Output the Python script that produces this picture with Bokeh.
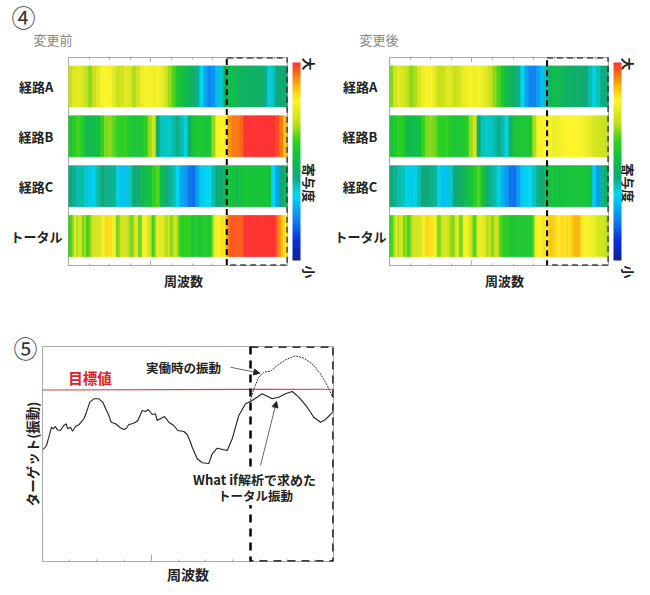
import numpy as np
from bokeh.plotting import figure
from bokeh.layouts import column, row
from bokeh.models import (Range1d, FixedTicker, LinearAxis, Label, BoxAnnotation, ColorBar,
                          LinearColorMapper, ColumnDataSource, Arrow, NormalHead)
from bokeh.transform import transform
from bokeh.embed import file_html
from bokeh.resources import INLINE

route_labels = ["経路A", "経路B", "経路C", "トータル"]
before_title = "変更前"
after_title = "変更後"
freq_label = "周波数"
cbar_label = "寄与度"

before_A = [.70,.74,.76,.74,.70,.66,.70,.75,.80,.81,.80,.75,.70,.72,.75,.74,.68,.72,.77,.79,.79,.78,.80,.77,.72,.67,.62,.55,.53,
            .50,.47,.45,.41,.33,.25,.21,.23,.29,.36,.45,.50,.50,.48,.47,.46,.46,.46,.46,.45,.41,.35,.37,.42,.43,.43]
before_B = [.55,.58,.61,.58,.51,.49,.50,.52,.60,.65,.66,.63,.60,.59,.60,.56,.55,.55,.55,.59,.67,.72,.44,.37,.36,.36,.38,.41,.38,
            .34,.45,.54,.55,.55,.54,.55,.66,.79,.81,.82,.91,.93,.93,.95,1,1,1,1,1,1,1,1,.98,.93,.87]
before_C = [.42,.40,.38,.38,.36,.31,.32,.38,.42,.41,.41,.40,.34,.30,.30,.36,.42,.43,.48,.50,.53,.60,.62,.50,.44,.40,.38,.33,.26,
            .24,.19,.18,.25,.31,.32,.33,.38,.42,.44,.47,.53,.53,.50,.53,.54,.54,.54,.54,.54,.54,.53,.33,.25,.42,.47]
before_T = [.60,.62,.66,.76,.68,.73,.72,.64,.68,.61,.62,.68,.72,.73,.73,.72,.76,.80,.83,.84,.83,.83,.82,.78,.64,.65,.72,.73,.72,.73,
            .68,.65,.65,.73,.75,.65,.63,.79,.79,.78,.72,.70,.60,.64,.75,.76,.75,.75,.70,.68,.72,.66,.67,.72,.72,.64,.60,.58,
            .60,.60,.60,.58,.55,.56,.58,.55,.55,.57,.57,.57,.56,.57,.64,.76,.78,.80,.82,.84,.82,.88,.93,.96,.97,.96,.96,.96,.96,.96,
            1,1,1,1,1,1,1,1,1,1,1,1,1,1,1,1,.97,.93,.90,.87,.84,.82]

after_A = [.65,.72,.75,.73,.70,.66,.68,.73,.78,.80,.80,.75,.70,.70,.74,.74,.70,.72,.76,.78,.79,.78,.79,.77,.74,.70,.66,.62,.56,
           .50,.47,.45,.41,.33,.25,.21,.21,.25,.30,.38,.47,.50,.50,.48,.46,.45,.45,.44,.44,.42,.38,.34,.37,.41,.42]
after_B = [.54,.57,.60,.57,.51,.49,.50,.52,.60,.65,.66,.64,.60,.58,.60,.56,.55,.55,.55,.58,.67,.72,.44,.37,.36,.36,.38,.41,.38,
           .34,.46,.54,.55,.55,.55,.56,.68,.79,.80,.81,.79,.77,.78,.79,.81,.81,.81,.81,.79,.78,.76,.73,.72,.71,.70]
after_C = [.42,.40,.38,.37,.34,.31,.32,.38,.42,.42,.41,.40,.34,.30,.30,.36,.42,.43,.47,.50,.53,.58,.62,.52,.46,.40,.38,.34,.27,
           .24,.19,.18,.24,.31,.32,.33,.37,.41,.44,.47,.53,.53,.52,.53,.54,.54,.54,.54,.54,.54,.53,.31,.24,.40,.46]
after_T = [.60,.62,.67,.76,.69,.73,.72,.64,.67,.61,.64,.70,.72,.73,.72,.73,.76,.80,.84,.84,.83,.83,.82,.78,.65,.65,.72,.73,.72,.72,
           .68,.65,.65,.73,.75,.65,.64,.79,.79,.78,.72,.70,.61,.64,.75,.77,.76,.75,.72,.68,.72,.66,.67,.72,.72,.64,.61,.59,
           .58,.58,.58,.55,.56,.55,.57,.56,.56,.56,.56,.56,.56,.56,.62,.76,.79,.81,.82,.83,.83,.82,.86,.86,.86,.84,.83,.82,.84,.84,
           .83,.85,.83,.85,.87,.88,.88,.88,.84,.82,.81,.80,.80,.78,.78,.76,.74,.72,.72,.72,.70,.68]

total_x = [0.7,4,6.3,9,10.7,13,14.7,18,21.3,23.7,25.3,28,30,33,36.3,41.3,44,47.3,51.3,56.3,60.3,63.7,66.3,68.7,73,78,81.3,84,86.3,89.7,
           93,95.3,99.7,103,105.7,109.7,113,114.7,122,126.3,131.3,135.3,141.3,144.7,148,149.7,154.7,159.7,166.3,169.7,174.7,184.7,
           189.7,196.3,203,208,213,219.7,224.7,229.7,236.3,243,249.7,256.3,264.7,271.3,278,283,290.3]
total_y = [112,116,124.3,134.3,132.7,135,131.7,131,136,137.7,132.7,134.3,130.3,135,136.7,142.7,149.3,159.3,162.7,162.7,159.3,151.7,146,139.3,137.7,133.7,132,133.3,137,137.7,
           139.3,141,151,150,152,147,147.7,141,145,139.3,136,131,130,127,119.3,114.3,102.7,98.7,98,107.7,113.3,111,
           122.7,146,157.7,160,163.3,167.7,165.3,162.7,164.3,167.7,170,164.3,154.3,144.3,139.3,142,149.3]
actual_x = [208,211.3,216.3,221.3,228,234.7,243,253,261.3,269.7,278,284.7,290.3]
actual_y = [161,172.7,184.3,189.3,190.3,196,201.7,205.7,203.3,197.7,187.7,176,164.3]
target_x = [0, 291]
target_y = [171.5, 172.3]

stops = [0, .10, .20, .33, .42, .52, .60, .70, .81, .875, .94, 1.0]
stop_rgb = [(16,32,144),(8,48,224),(16,128,240),(0,216,240),(16,168,120),(16,192,64),(48,208,32),(200,224,28),
            (253,245,43),(251,191,10),(249,115,22),(255,51,51)]
grid = np.linspace(0, 1, 256)
palette = ["#%02x%02x%02x" % tuple(int(round(np.interp(g, stops, [c[k] for c in stop_rgb]))) for k in range(3)) for g in grid]
mapper = LinearColorMapper(palette=palette, low=0, high=1)

FONT = "Noto Sans CJK JP"
DARK = "#222222"
GREY = "#aaaaaa"


def txt(p, fl, fb, px, py, text, size=13, bold=True, color=DARK, bg=None):
    p.add_layout(Label(x=px - fl, y=fb - py, x_units="screen", y_units="screen", text=text,
                       text_font=FONT, text_font_size=f"{size}px", text_color=color,
                       text_font_style="bold" if bold else "normal",
                       background_fill_color=bg,
                       text_align="center", text_baseline="middle"))


def bare(ax, ticks):
    ax.ticker = FixedTicker(ticks=ticks)
    ax.axis_line_color = None
    ax.major_tick_line_color = None
    ax.minor_tick_line_color = None
    ax.major_tick_out = 0
    ax.major_tick_in = 0
    ax.minor_tick_out = 0
    ax.minor_tick_in = 0
    ax.major_label_text_font = FONT
    ax.major_label_text_font_style = "bold"
    ax.major_label_text_font_size = "13px"
    ax.major_label_text_color = DARK
    return ax


def heat_panel(strips, title, box_left, width, height, left_border, right_border, left_standoff, right_standoff, title_x, circle):
    p = figure(width=width, height=height, output_backend="svg", toolbar_location=None,
               x_range=Range1d(0, 220), y_range=Range1d(3.59, -0.58),
               min_border_left=left_border, min_border_right=right_border, min_border_top=57, min_border_bottom=35,
               x_axis_location=None, y_axis_location=None, background_fill_color="white", border_fill_color="white")
    p.grid.visible = False
    p.outline_line_color = GREY
    for i, vals in enumerate(strips):
        n = len(vals)
        e = np.linspace(0, 220, n + 1)
        src = ColumnDataSource(dict(left=e[:-1], right=e[1:], v=vals, top=[i - .41] * n, bottom=[i + .41] * n))
        p.quad(left="left", right="right", top="top", bottom="bottom", source=src,
               fill_color=transform("v", mapper), line_color=transform("v", mapper), line_width=0.8)
    tick_args = dict(ticker=FixedTicker(ticks=[82.7], minor_ticks=[20.7 * k for k in range(11)]),
                     major_label_overrides={82.7: ""}, axis_line_color=None,
                     major_label_text_font_size="1px", major_label_standoff=0,
                     major_tick_in=5, major_tick_out=0, minor_tick_in=2, minor_tick_out=0,
                     major_tick_line_color=GREY, minor_tick_line_color=GREY)
    p.add_layout(LinearAxis(**tick_args), "below")
    p.add_layout(Label(x=115, y=4, x_units="screen", y_units="screen", text=freq_label, text_font=FONT,
                       text_font_size="13px", text_font_style="bold", text_color=DARK,
                       text_align="center", text_baseline="middle"), "below")
    p.add_layout(LinearAxis(**tick_args), "above")
    p.add_layout(Label(x=title_x, y=18, x_units="screen", y_units="screen", text=title, text_font=FONT,
                       text_font_size="13px", text_color="#888888", text_align="center",
                       text_baseline="middle"), "above")
    if circle:
        p.add_layout(Label(x=-57, y=5, x_units="screen", y_units="screen", text=circle, text_font=FONT,
                           text_font_size="24px", text_color="#333333"), "above")
    p.add_layout(BoxAnnotation(left=box_left, right=220, top=-0.58, bottom=3.59, fill_alpha=0,
                               line_color="black", line_alpha=1, line_width=2, line_dash="6 4"))
    left = bare(LinearAxis(), [0, 1, 2, 3])
    left.major_label_overrides = {0: route_labels[0] + "\u2002\u2009", 1: route_labels[1] + "\u2002\u2009",
                                  2: route_labels[2] + "\u2002\u2009", 3: route_labels[3]}
    left.major_label_standoff = left_standoff
    p.add_layout(left, "left")
    cb = ColorBar(color_mapper=mapper, width=8, padding=5, margin=0, ticker=FixedTicker(ticks=[]),
                  major_tick_line_color=None, minor_tick_line_color=None, bar_line_color=None,
                  border_line_color=None, background_fill_alpha=0)
    p.add_layout(cb, "right")
    right = bare(LinearAxis(), [-0.58, 1.545, 3.59])
    right.major_label_overrides = {-0.58: "大", 1.545: cbar_label, 3.59: "小"}
    right.major_label_orientation = -np.pi / 2
    right.major_label_standoff = right_standoff
    p.add_layout(right, "right")
    return p


p1 = heat_panel([before_A, before_B, before_C, before_T], before_title, 159, 331, 300, 68, 43, 6, 4, -15.5, "④")
p2 = heat_panel([after_A, after_B, after_C, after_T], after_title, 158.3, 319, 300, 58, 41, 3, 2, -10.5, None)

p3 = figure(width=350, height=295, output_backend="svg", toolbar_location=None,
            x_range=Range1d(0, 291), y_range=Range1d(0, 215),
            min_border_left=42, min_border_right=17, min_border_top=46, min_border_bottom=34,
            x_axis_location=None, y_axis_location=None, background_fill_color="white", border_fill_color="white")
p3.grid.visible = False
p3.outline_line_color = GREY
p3.add_layout(LinearAxis(ticker=FixedTicker(ticks=[109], minor_ticks=[27.2 * k for k in range(11)]),
                         major_label_overrides={109: ""}, axis_line_color=GREY,
                         axis_label=freq_label, axis_label_text_font=FONT, axis_label_text_font_style="bold",
                         axis_label_text_font_size="14px", axis_label_text_color=DARK, axis_label_standoff=2,
                         major_tick_in=7, major_tick_out=0, minor_tick_in=2, minor_tick_out=0,
                         major_tick_line_color=GREY, minor_tick_line_color=GREY), "below")
left3 = bare(LinearAxis(), [])
left3.axis_label = "ターゲット(振動)"
left3.axis_label_text_font = FONT
left3.axis_label_text_font_style = "bold"
left3.axis_label_text_font_size = "13.5px"
left3.axis_label_text_color = DARK
left3.axis_label_standoff = 1
p3.add_layout(left3, "left")
p3.add_layout(Label(x=-29, y=-18, x_units="screen", y_units="screen", text="⑤", text_font=FONT, text_font_size="24px",
                    text_color="#333333"), "above")
p3.line(target_x, target_y, line_color="#e23b3b", line_width=1.1)
p3.line(actual_x, actual_y, line_color="#333333", line_width=1, line_dash="2 1")
p3.line(total_x, total_y, line_color="#222222", line_width=1.1)
p3.add_layout(BoxAnnotation(left=208, right=291, top=215, bottom=0, fill_alpha=0,
                            line_color="black", line_alpha=1, line_width=2.5, line_dash="8 6"))
for xs, ys, xe, ye in [(188, 194.3, 217.3, 188.3), (218, 96, 234, 160)]:
    p3.add_layout(Arrow(x_start=xs, y_start=ys, x_end=xe, y_end=ye, line_color="#666666", line_width=1,
                        end=NormalHead(size=6, fill_color="#222222", line_color="#222222")))
FL, FB = 42, 561
txt(p3, FL, FB, 89.5, 377, "目標値", size=14.5, color="#e0202a")
txt(p3, FL, FB, 183, 367, "実働時の振動", size=12.5)
txt(p3, FL, FB, 254, 479, "What if解析で求めた", size=13, bg="white")
txt(p3, FL, FB, 255, 495, "トータル振動", size=12.5, bg="white")

layout = column(row(p1, p2), p3)
open("out.html", "w").write(file_html(layout, INLINE))
